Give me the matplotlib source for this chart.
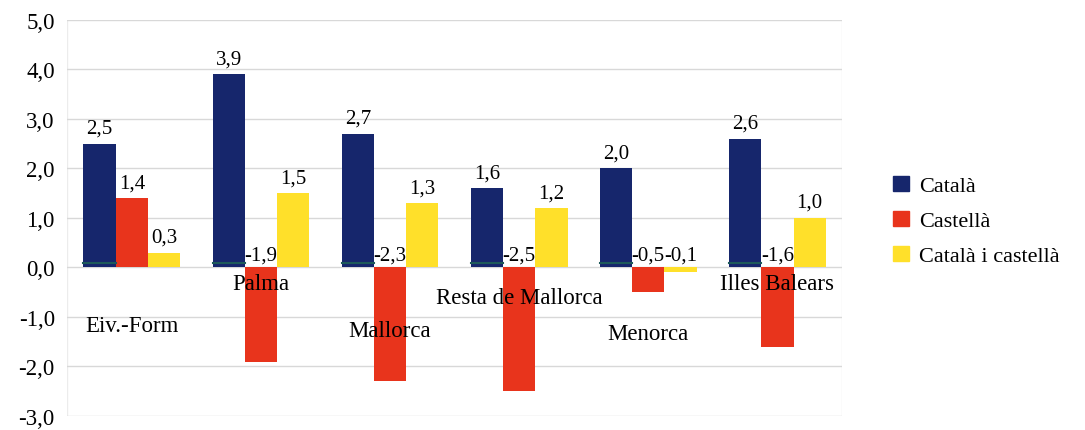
import numpy as np
import matplotlib
matplotlib.use("Agg")
import matplotlib.pyplot as plt
from matplotlib.patches import Patch

plt.rcParams["font.family"] = ["Liberation Serif", "DejaVu Serif"]

regions = ["Eiv.-Form", "Palma", "Mallorca", "Resta de Mallorca", "Menorca", "Illes Balears"]
series = ["Català", "Castellà", "Català i castellà"]
catala = [2.5, 3.9, 2.7, 1.6, 2.0, 2.6]
castella = [1.4, -1.9, -2.3, -2.5, -0.5, -1.6]
ambdues = [0.3, 1.5, 1.3, 1.2, -0.1, 1.0]
colors = ["#16266c", "#e8341c", "#ffe02a"]
yticks = [-3, -2, -1, 0, 1, 2, 3, 4, 5]

# staggered height of the region names (data units)
name_y = [-1.17, -0.32, -1.27, -0.6, -1.33, -0.32]


def fmt(v):
    return f"{v:.1f}".replace(".", ",")


fig = plt.figure(figsize=(10.85, 4.31), dpi=100)
ax = fig.add_axes([0.062, 0.0325, 0.714, 0.919])

x = np.arange(len(regions))
w = 0.25
for i, (vals, c) in enumerate(zip([catala, castella, ambdues], colors)):
    xs = x + (i - 1) * w
    ax.bar(xs, vals, width=w, color=c, zorder=3)
    for xi, v in zip(xs, vals):
        if v >= 0:
            ax.text(xi, v + 0.12, fmt(v), ha="center", va="bottom", fontsize=15, zorder=4)
        else:
            ax.text(xi, 0.06, fmt(v), ha="center", va="bottom", fontsize=15, zorder=4)

# dark line at the foot of the blue bars
for xi in x - w:
    ax.plot([xi - w / 2, xi + w / 2], [0.08, 0.08], color="#1d5a5a", lw=1.5, zorder=3.5)

for xi, name, ny in zip(x, regions, name_y):
    ax.text(xi, ny, name, ha="center", va="center", fontsize=16.5, zorder=5)

ax.set_xlim(-0.5, len(regions) - 0.5)
ax.set_ylim(-3, 5)
ax.set_yticks(yticks)
ax.set_yticklabels([fmt(t) for t in yticks], fontsize=16.5)
ax.set_xticks([])
ax.tick_params(axis="y", length=0, pad=9)
ax.grid(axis="y", color="#d8d8d8", lw=1, zorder=0)
for s in ax.spines.values():
    s.set_visible(False)
ax.axhline(5, color="#b0b0b0", lw=1.2, zorder=1)
ax.axvline(-0.5, color="#ececec", lw=1, zorder=1)
ax.axvline(len(regions) - 0.5, color="#ececec", lw=1, zorder=1)

handles = [Patch(color=c, label=s) for c, s in zip(colors, series)]
fig.legend(handles=handles, loc="center left", bbox_to_anchor=(0.805, 0.485),
           frameon=False, fontsize=16, handlelength=0.7, handleheight=0.7,
           handletextpad=0.45, labelspacing=0.65)

fig.savefig("out.png", dpi=100)
